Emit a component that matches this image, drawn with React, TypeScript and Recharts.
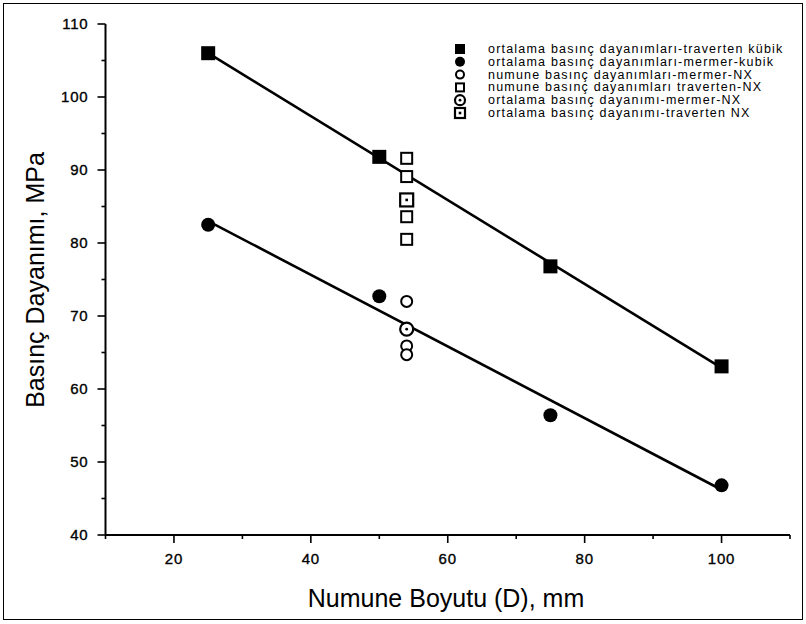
import React from 'react';
import { ScatterChart, Scatter, XAxis, YAxis, Legend } from 'recharts';

// ölçümler: D (mm) -> basınç dayanımı (MPa)
const travertenKubik = [
  { d: 25, p: 106 },
  { d: 50, p: 91.8 },
  { d: 75, p: 76.8 },
  { d: 100, p: 63.1 },
];
const mermerKubik = [
  { d: 25, p: 82.5 },
  { d: 50, p: 72.7 },
  { d: 75, p: 56.4 },
  { d: 100, p: 46.8 },
];
const mermerNX = [
  { d: 54, p: 72.0 },
  { d: 54, p: 65.9 },
  { d: 54, p: 64.7 },
];
const travertenNX = [
  { d: 54, p: 91.6 },
  { d: 54, p: 89.1 },
  { d: 54, p: 83.6 },
  { d: 54, p: 80.5 },
];
const mermerNXOrt = [{ d: 54, p: 68.2 }];
const travertenNXOrt = [{ d: 54, p: 85.9 }];

// eğilim çizgileri (uç noktalar)
const travertenTrend = [
  { d: 25, p: 106 },
  { d: 100, p: 62.9 },
];
const mermerTrend = [
  { d: 25, p: 83 },
  { d: 100, p: 46.2 },
];

const xTicks = [10, 20, 30, 40, 50, 60, 70, 80, 90, 100, 110];
const yTicks = [40, 45, 50, 55, 60, 65, 70, 75, 80, 85, 90, 95, 100, 105, 110];

const legendItems = [
  { kind: 'filledSquare', label: 'ortalama basınç dayanımları-traverten kübik' },
  { kind: 'filledCircle', label: 'ortalama basınç dayanımları-mermer-kubik' },
  { kind: 'openCircle', label: 'numune basınç dayanımları-mermer-NX' },
  { kind: 'openSquare', label: 'numune basınç dayanımları traverten-NX' },
  { kind: 'dotCircle', label: 'ortalama basınç dayanımı-mermer-NX' },
  { kind: 'dotSquare', label: 'ortalama basınç dayanımı-traverten NX' },
];

const FONT = '"Liberation Sans", Arial, Helvetica, sans-serif';

const Marker = ({ kind, cx, cy, s }: { kind: string; cx: number; cy: number; s: number }) => {
  const h = s / 2;
  switch (kind) {
    case 'filledSquare':
      return <rect x={cx - h} y={cy - h} width={s} height={s} fill="#000" />;
    case 'filledCircle':
      return <circle cx={cx} cy={cy} r={h} fill="#000" />;
    case 'openCircle':
      return <circle cx={cx} cy={cy} r={h - 1} fill="#fff" stroke="#000" strokeWidth={2} />;
    case 'openSquare':
      return <rect x={cx - h + 1} y={cy - h + 1} width={s - 2} height={s - 2} fill="#fff" stroke="#000" strokeWidth={2} />;
    case 'dotCircle':
      return (
        <g>
          <circle cx={cx} cy={cy} r={h - 1} fill="#fff" stroke="#000" strokeWidth={2.2} />
          <circle cx={cx} cy={cy} r={1.4} fill="#000" />
        </g>
      );
    case 'dotSquare':
      return (
        <g>
          <rect x={cx - h + 1} y={cy - h + 1} width={s - 2} height={s - 2} fill="#fff" stroke="#000" strokeWidth={2.2} />
          <rect x={cx - 1.3} y={cy - 1.3} width={2.6} height={2.6} fill="#000" />
        </g>
      );
    default:
      return <g />;
  }
};

const shapeOf = (kind: string, s: number) => (props: any) => (
  <Marker kind={kind} cx={props.cx} cy={props.cy} s={s} />
);

const XTick = ({ x, y, payload }: any) => {
  const major = payload.value % 20 === 0;
  return (
    <g>
      <line x1={x} y1={y} x2={x} y2={y + (major ? 8 : 4)} stroke="#000" strokeWidth={1.6} />
      {major && (
        <text x={x} y={y + 29} textAnchor="middle" fontFamily={FONT} fontSize={15} letterSpacing={0.8} fill="#000" stroke="#000" strokeWidth={0.35}>
          {payload.value}
        </text>
      )}
    </g>
  );
};

const YTick = ({ x, y, payload }: any) => {
  const major = payload.value % 10 === 0;
  return (
    <g>
      <line x1={x} y1={y} x2={x - (major ? 8 : 4)} y2={y} stroke="#000" strokeWidth={1.6} />
      {major && (
        <text x={x - 17} y={y + 5} textAnchor="end" fontFamily={FONT} fontSize={15} letterSpacing={0.8} fill="#000" stroke="#000" strokeWidth={0.35}>
          {payload.value}
        </text>
      )}
    </g>
  );
};

const XTitle = () => (
  <text x={446} y={607} textAnchor="middle" fontFamily={FONT} fontSize={25} fill="#000">
    Numune Boyutu (D), mm
  </text>
);

const YTitle = () => (
  <text x={44} y={280} transform="rotate(-90 44 280)" textAnchor="middle" fontFamily={FONT} fontSize={25} fill="#000">
    Basınç Dayanımı, MPa
  </text>
);

const LegendBox = () => (
  <svg width={340} height={84} style={{ display: 'block', overflow: 'visible' }}>
    {legendItems.map((item, i) => {
      const cy = 8 + i * 12.8;
      return (
        <g key={item.label}>
          <Marker kind={item.kind} cx={8} cy={cy} s={item.kind.startsWith('dot') ? 12 : 10} />
          <text x={36} y={cy + 4} fontFamily={FONT} fontSize={12.5} letterSpacing={1.2} fill="#000">
            {item.label}
          </text>
        </g>
      );
    })}
  </svg>
);

export default function App() {
  return (
    <div style={{ position: 'absolute', left: 0, top: 0, width: 806, height: 624, background: '#fff' }}>
      <div
        style={{
          position: 'absolute',
          left: 3,
          top: 3,
          width: 798,
          height: 615,
          border: '1.5px solid #000',
        }}
      />
      <ScatterChart width={806} height={624} margin={{ top: 24, right: 16, bottom: 0, left: 0 }}>
        <XAxis
          type="number"
          dataKey="d"
          domain={[10, 110]}
          ticks={xTicks}
          interval={0}
          tickSize={0}
          tickMargin={0}
          tick={<XTick />}
          height={89}
          axisLine={{ stroke: '#000', strokeWidth: 2 }}
          label={<XTitle />}
          allowDataOverflow
        />
        <YAxis
          type="number"
          dataKey="p"
          domain={[40, 110]}
          ticks={yTicks}
          interval={0}
          tickSize={0}
          tickMargin={0}
          tick={<YTick />}
          width={105.5}
          axisLine={{ stroke: '#000', strokeWidth: 2 }}
          label={<YTitle />}
          allowDataOverflow
        />
        <Legend
          layout="horizontal"
          verticalAlign="middle"
          align="center"
          content={<LegendBox />}
          wrapperStyle={{ position: 'absolute', left: 452, top: 41, width: 340, height: 84 }}
        />
        <Scatter data={travertenTrend} line={{ stroke: '#000', strokeWidth: 2.6 }} shape={() => <g />} isAnimationActive={false} legendType="none" />
        <Scatter data={mermerTrend} line={{ stroke: '#000', strokeWidth: 2.6 }} shape={() => <g />} isAnimationActive={false} legendType="none" />
        <Scatter data={travertenKubik} shape={shapeOf('filledSquare', 14)} isAnimationActive={false} />
        <Scatter data={mermerKubik} shape={shapeOf('filledCircle', 14)} isAnimationActive={false} />
        <Scatter data={travertenNX} shape={shapeOf('openSquare', 13)} isAnimationActive={false} />
        <Scatter data={mermerNX} shape={shapeOf('openCircle', 13)} isAnimationActive={false} />
        <Scatter data={travertenNXOrt} shape={shapeOf('dotSquare', 15)} isAnimationActive={false} />
        <Scatter data={mermerNXOrt} shape={shapeOf('dotCircle', 15)} isAnimationActive={false} />
      </ScatterChart>
    </div>
  );
}
